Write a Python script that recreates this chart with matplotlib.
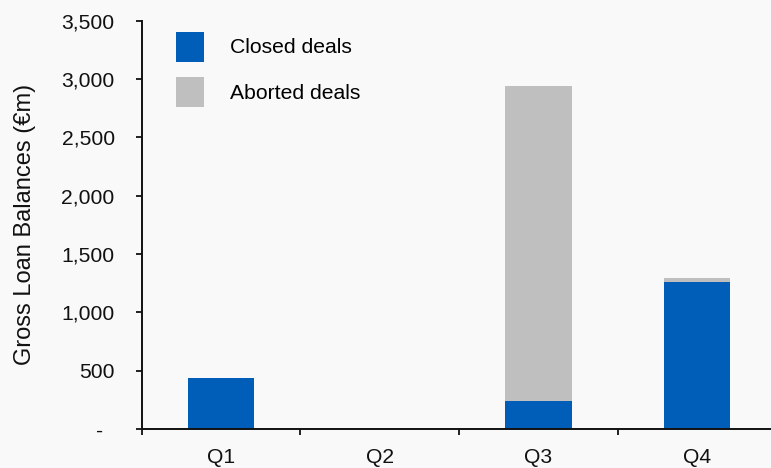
import matplotlib
matplotlib.use("Agg")
import matplotlib.pyplot as plt
from matplotlib.ticker import FuncFormatter, FixedLocator
import numpy as np

quarters = ["Q1", "Q2", "Q3", "Q4"]
closed_deals = [440, 0, 243, 1262]
aborted_deals = [0, 0, 2697, 35]
y_ticks = [0, 500, 1000, 1500, 2000, 2500, 3000, 3500]

BLUE = "#005EB8"
GREY = "#BFBFBF"
BG = "#F9F9F9"
INK = "#111111"
FS = 15.2

plt.rcParams["font.family"] = ["Liberation Sans", "DejaVu Sans"]

fig = plt.figure(figsize=(7.71, 4.68), dpi=100, facecolor=BG)
ax = fig.add_axes([0.1838, 0.0833, 0.8233, 0.8725], facecolor=BG)

x = np.arange(len(quarters))
ax.bar(x, closed_deals, width=0.42, color=BLUE, label="Closed deals", zorder=2)
ax.bar(x, aborted_deals, width=0.42, bottom=closed_deals, color=GREY,
       label="Aborted deals", zorder=2)

ax.set_xlim(-0.5, len(quarters) - 0.5)
ax.set_ylim(0, 3500)

ax.yaxis.set_major_locator(FixedLocator(y_ticks))
ax.yaxis.set_major_formatter(FuncFormatter(lambda v, p: "-  " if v == 0 else f"{v:,.0f}"))

# category labels centred, tick marks on category boundaries
ax.set_xticks(x)
ax.set_xticklabels(quarters)
ax.set_xticks(np.arange(-0.5, len(quarters), 1.0), minor=True)
ax.tick_params(axis="x", which="major", length=0, pad=14, labelsize=FS, colors=INK)
ax.tick_params(axis="x", which="minor", length=4.5, width=1.3, direction="out", color=INK)
ax.tick_params(axis="y", which="major", length=4.5, width=1.3, direction="out",
               labelsize=FS, pad=15, colors=INK)

for side in ("top", "right"):
    ax.spines[side].set_visible(False)
for side in ("left", "bottom"):
    ax.spines[side].set_linewidth(1.4)
    ax.spines[side].set_color(INK)

ax.set_ylabel("Gross Loan Balances (€m)", fontsize=17, labelpad=18, color=INK)

ax.legend(loc="upper left", bbox_to_anchor=(0.04, 0.994), frameon=False,
          fontsize=FS, handlelength=1.36, handleheight=1.81,
          handletextpad=1.2, labelspacing=0.75, borderaxespad=0)

fig.savefig("out.png", dpi=100, facecolor=BG)
